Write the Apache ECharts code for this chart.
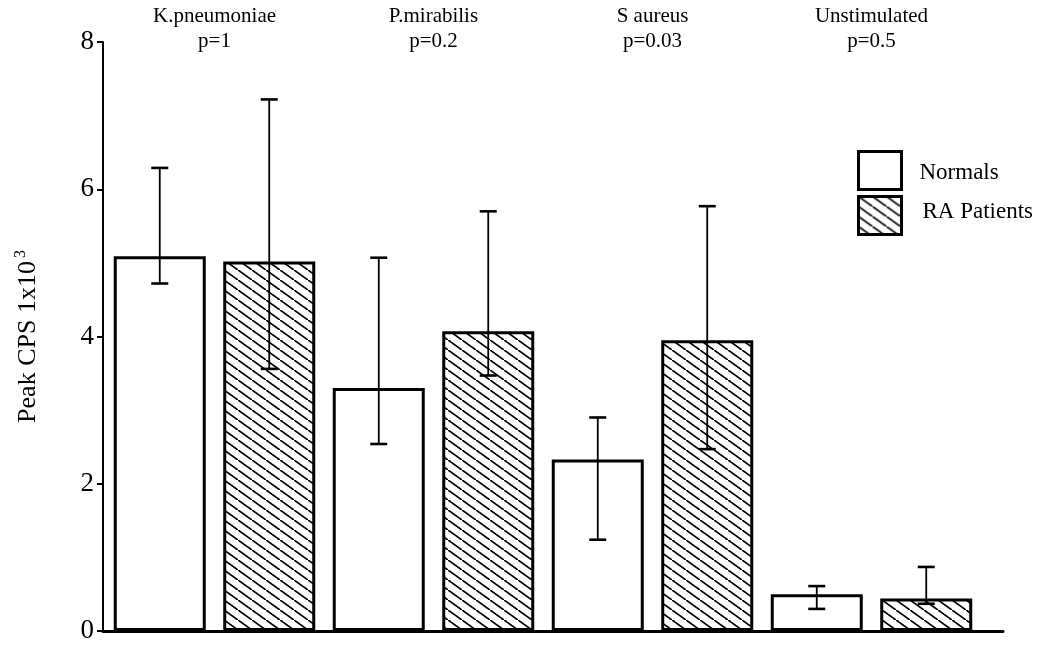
<!DOCTYPE html>
<html>
<head>
<meta charset="utf-8">
<script src="https://cdn.jsdelivr.net/npm/echarts@6/dist/echarts.min.js"></script>
<style>
  html, body { margin: 0; padding: 0; background: #fff; }
  #chart { width: 1043px; height: 646px; }
</style>
</head>
<body>
<div id="chart"></div>
<script>
// Stimulus groups and their test p-values
const categories = ['K.pneumoniae', 'P.mirabilis', 'S aureus', 'Unstimulated'];
const pValues = ['p=1', 'p=0.2', 'p=0.03', 'p=0.5'];

// Peak CPS (x10^3): group means with lower / upper error limits
const normalsMean = [5.09, 3.30, 2.33, 0.50];
const normalsLow  = [4.72, 2.54, 1.24, 0.30];
const normalsHigh = [6.29, 5.07, 2.90, 0.61];

const raMean = [5.02, 4.07, 3.95, 0.44];
const raLow  = [3.56, 3.47, 2.47, 0.37];
const raHigh = [7.22, 5.70, 5.77, 0.87];

// Y axis ticks
const yTicks = [0, 2, 4, 6, 8];

const SERIF = '"Liberation Serif", "DejaVu Serif", serif';
const BAR_WIDTH = 92;
const BAR_GAP = 0.19;

// Diagonal hatch fill for the patient bars
function makeHatch() {
  const w = 14, h = 10;
  const c = document.createElement('canvas');
  c.width = w; c.height = h;
  const g = c.getContext('2d');
  g.fillStyle = '#fff';
  g.fillRect(0, 0, w, h);
  g.strokeStyle = '#000';
  g.lineWidth = 1.7;
  [[-w, -h], [0, 0], [w, h]].forEach(([dx, dy]) => {
    g.beginPath();
    g.moveTo(dx, dy);
    g.lineTo(dx + w, dy + h);
    g.stroke();
  });
  return c;
}
const hatch = { image: makeHatch(), repeat: 'repeat' };

// Error bar drawn over a bar; side = -1 for the left bar, +1 for the right bar
function errorBars(name, low, high, side) {
  return {
    type: 'custom',
    name: name,
    xAxisIndex: 0,
    yAxisIndex: 0,
    z: 10,
    silent: true,
    data: categories.map((c, i) => [i, low[i], high[i]]),
    encode: { x: 0, y: [1, 2] },
    renderItem: function (params, api) {
      const i = api.value(0);
      const lo = api.coord([i, api.value(1)]);
      const hi = api.coord([i, api.value(2)]);
      const x = lo[0] + side * BAR_WIDTH * (1 + BAR_GAP) / 2;
      const cap = 8.5;
      return {
        type: 'group',
        children: [
          { type: 'line', shape: { x1: x, y1: lo[1], x2: x, y2: hi[1] },
            style: { stroke: '#000', lineWidth: 1.8 } },
          { type: 'line', shape: { x1: x - cap, y1: lo[1], x2: x + cap, y2: lo[1] },
            style: { stroke: '#000', lineWidth: 2.6 } },
          { type: 'line', shape: { x1: x - cap, y1: hi[1], x2: x + cap, y2: hi[1] },
            style: { stroke: '#000', lineWidth: 2.6 } }
        ]
      };
    }
  };
}

const chart = echarts.init(document.getElementById('chart'), null, { renderer: 'canvas' });

chart.setOption({
  animation: false,
  backgroundColor: '#fff',
  grid: [
    { left: 105, width: 876, top: 42, bottom: 15 },
    { left: 103, right: 40, top: 42, bottom: 15 }
  ],
  legend: {
    data: ['Normals', 'RA Patients'],
    orient: 'vertical',
    left: 857,
    top: 150,
    padding: 0,
    icon: 'rect',
    itemWidth: 43,
    itemHeight: 38,
    itemGap: 4,
    selectedMode: false,
    itemStyle: { borderColor: '#000', borderWidth: 3 },
    formatter: function (name) {
      return name === 'Normals' ? '{a|' + name + '}' : '{b|' + name + '}';
    },
    textStyle: {
      fontFamily: SERIF,
      fontSize: 23,
      color: '#000',
      rich: {
        a: { fontFamily: SERIF, fontSize: 23, color: '#000', padding: [4, 0, 0, 13] },
        b: { fontFamily: SERIF, fontSize: 23, color: '#000', padding: [0, 0, 8, 16] }
      }
    }
  },
  xAxis: [
    {
      type: 'category',
      gridIndex: 0,
      data: categories,
      axisLine: { show: false },
      axisTick: { show: false },
      axisLabel: { show: false },
      splitLine: { show: false }
    },
    {
      type: 'category',
      gridIndex: 0,
      position: 'top',
      offset: -12,
      data: categories,
      axisLine: { show: false },
      axisTick: { show: false },
      splitLine: { show: false },
      axisLabel: {
        interval: 0,
        margin: 0,
        color: '#000',
        fontFamily: SERIF,
        fontSize: 21,
        lineHeight: 25,
        formatter: function (value, idx) { return value + '\n' + pValues[idx]; }
      }
    },
    {
      type: 'value',
      gridIndex: 1,
      min: 0,
      max: 1,
      axisLine: { show: true, onZero: false, lineStyle: { color: '#000', width: 3 } },
      axisTick: { show: false },
      axisLabel: { show: false },
      splitLine: { show: false }
    }
  ],
  yAxis: [
    {
      type: 'value',
      gridIndex: 0,
      min: yTicks[0],
      max: yTicks[yTicks.length - 1],
      interval: yTicks[1] - yTicks[0],
      offset: 2,
      axisLine: { show: true, lineStyle: { color: '#000', width: 2 } },
      axisTick: { show: true, length: 6, lineStyle: { color: '#000', width: 2 } },
      splitLine: { show: false },
      axisLabel: {
        color: '#000',
        fontFamily: SERIF,
        fontSize: 27,
        margin: 9
      },
      name: 'Peak CPS 1x10{sup|3}',
      nameLocation: 'middle',
      nameGap: 60,
      nameRotate: 90,
      nameTextStyle: {
        color: '#000',
        fontFamily: SERIF,
        fontSize: 26,
        lineHeight: 30,
        rich: {
          sup: { fontFamily: SERIF, fontSize: 16, color: '#000', verticalAlign: 'top', lineHeight: 30, padding: [0, 0, 12, 3] }
        }
      }
    },
    {
      type: 'value',
      gridIndex: 1,
      min: 0,
      max: 1,
      show: false
    }
  ],
  series: [
    {
      type: 'bar',
      name: 'Normals',
      xAxisIndex: 0,
      yAxisIndex: 0,
      data: normalsMean,
      barWidth: BAR_WIDTH,
      barGap: (BAR_GAP * 100) + '%',
      itemStyle: { color: '#fff', borderColor: '#000', borderWidth: 3 },
      emphasis: { disabled: true }
    },
    {
      type: 'bar',
      name: 'RA Patients',
      xAxisIndex: 0,
      yAxisIndex: 0,
      data: raMean,
      barWidth: BAR_WIDTH,
      barGap: (BAR_GAP * 100) + '%',
      itemStyle: { color: hatch, borderColor: '#000', borderWidth: 3 },
      emphasis: { disabled: true }
    },
    errorBars('Normals error', normalsLow, normalsHigh, -1),
    errorBars('RA Patients error', raLow, raHigh, 1)
  ]
});
</script>
</body>
</html>
